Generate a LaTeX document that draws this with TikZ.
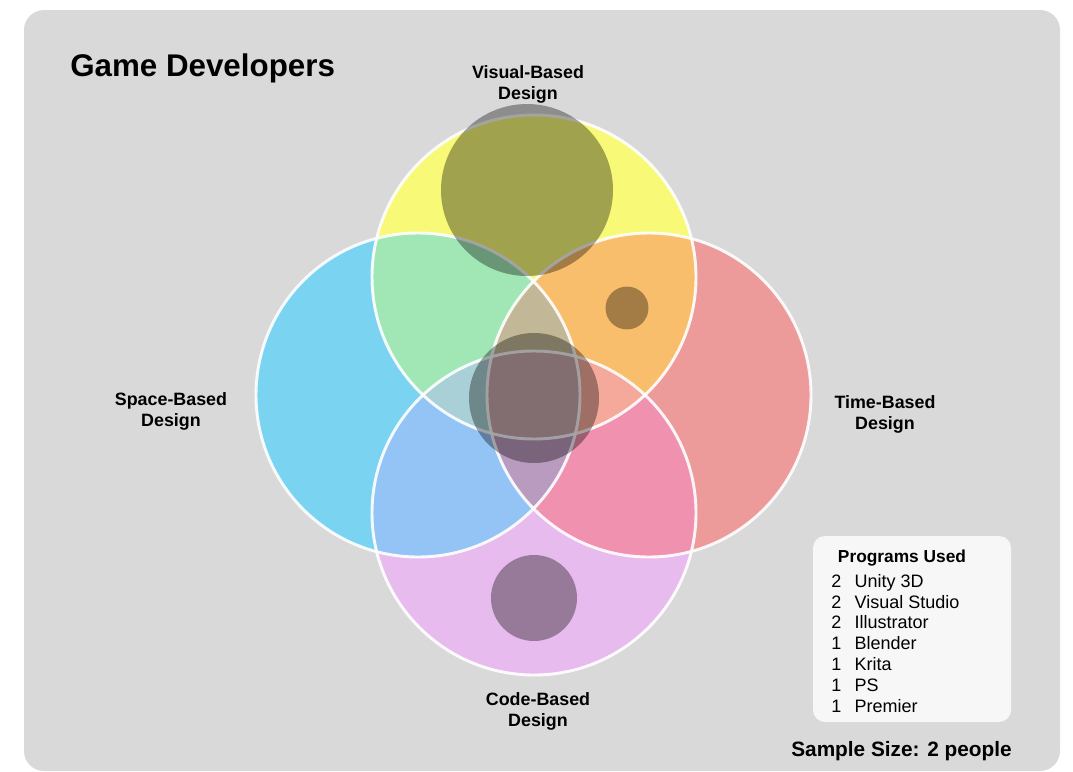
\documentclass[tikz,border=0pt]{standalone}
\usepackage{fontspec}
\setmainfont{Liberation Sans}
\definecolor{bgc}{HTML}{D9D9D9}
\definecolor{legc}{HTML}{F7F7F7}
\definecolor{yelc}{HTML}{F7F977}
\definecolor{bluc}{HTML}{7AD3F0}
\definecolor{redc}{HTML}{EC9A9A}
\definecolor{pnkc}{HTML}{E8BBEE}
\definecolor{grnc}{HTML}{A1E7B6}
\definecolor{orac}{HTML}{F9BE6B}
\definecolor{bpc}{HTML}{94C4F6}
\definecolor{rpc}{HTML}{F091B0}
\definecolor{tanc}{HTML}{C2B796}
\definecolor{lavc}{HTML}{BA9BC0}
\definecolor{tealc}{HTML}{A8D0D6}
\definecolor{salc}{HTML}{F5A99B}
\definecolor{quadc}{HTML}{C8A9AF}
\begin{document}
\begin{tikzpicture}[x=0.75pt,y=-0.75pt,
  lbl/.style={font=\bfseries\fontsize{13.4}{15.8}\selectfont, align=center, inner sep=0pt},
  ring/.style={draw=white, draw opacity=0.9, line width=2.2pt},
  blob/.style={fill=black, fill opacity=0.35}]
\useasboundingbox (0,0) rectangle (1073,771);
\fill[bgc, rounded corners=15pt] (24,10) rectangle (1060,771);

\def\R{121.5pt}
\coordinate (vis) at (534,277);
\coordinate (spa) at (418,395);
\coordinate (tim) at (649,395);
\coordinate (cod) at (534,513);

% one set
\fill[yelc] (vis) circle[radius=\R];
\fill[bluc] (spa) circle[radius=\R];
\fill[redc] (tim) circle[radius=\R];
\fill[pnkc] (cod) circle[radius=\R];
% two sets
\begin{scope}
\clip (vis) circle[radius=\R];
\fill[grnc] (spa) circle[radius=\R];
\fill[orac] (tim) circle[radius=\R];
\end{scope}
\begin{scope}
\clip (cod) circle[radius=\R];
\fill[bpc] (spa) circle[radius=\R];
\fill[rpc] (tim) circle[radius=\R];
\end{scope}
% three sets
\begin{scope}
\clip (spa) circle[radius=\R];
\clip (tim) circle[radius=\R];
\fill[tanc] (vis) circle[radius=\R];
\fill[lavc] (cod) circle[radius=\R];
\end{scope}
\begin{scope}
\clip (vis) circle[radius=\R];
\clip (cod) circle[radius=\R];
\fill[tealc] (spa) circle[radius=\R];
\fill[salc] (tim) circle[radius=\R];
\end{scope}
% all four
\begin{scope}
\clip (vis) circle[radius=\R];
\clip (cod) circle[radius=\R];
\clip (spa) circle[radius=\R];
\fill[quadc] (tim) circle[radius=\R];
\end{scope}

\draw[ring] (vis) circle[radius=\R];
\draw[ring] (spa) circle[radius=\R];
\draw[ring] (tim) circle[radius=\R];
\draw[ring] (cod) circle[radius=\R];

% answers
\fill[blob] (527,190) circle[radius=64.5pt];
\fill[blob] (627,308) circle[radius=16.1pt];
\fill[blob] (534,398) circle[radius=48.75pt];
\fill[blob] (534,598) circle[radius=32.25pt];

\node[anchor=base west, inner sep=0pt, font=\bfseries\fontsize{23.5}{28}\selectfont] (title) at (70,76) {Game Developers};
\node[lbl] (vislbl) at (528,84) {Visual-Based\\Design};
\node[lbl] (spalbl) at (171,411) {Space-Based\\Design};
\node[lbl] (timlbl) at (885,414) {Time-Based\\Design};
\node[lbl] (codlbl) at (538,711) {Code-Based\\Design};

\node[fill=legc, rounded corners=9pt, minimum width=148.5pt, minimum height=139.5pt] (legend) at (912,629) {};
\node[font=\bfseries\fontsize{13}{15.6}\selectfont, inner sep=0pt] (progtitle) at (902,558) {Programs Used};
\node[anchor=west, inner sep=0pt, font=\fontsize{13.5}{15.6}\selectfont] (progs) at (831,645.5) {%
\begin{tabular}{@{}l@{\hspace{10pt}}l@{}}
2 & Unity 3D\\
2 & Visual Studio\\
2 & Illustrator\\
1 & Blender\\
1 & Krita\\
1 & PS\\
1 & Premier
\end{tabular}};
\node[font=\bfseries\fontsize{15.6}{18}\selectfont, inner sep=0pt] (sample) at (901.5,751) {Sample Size: 2 people};
\end{tikzpicture}
\end{document}
